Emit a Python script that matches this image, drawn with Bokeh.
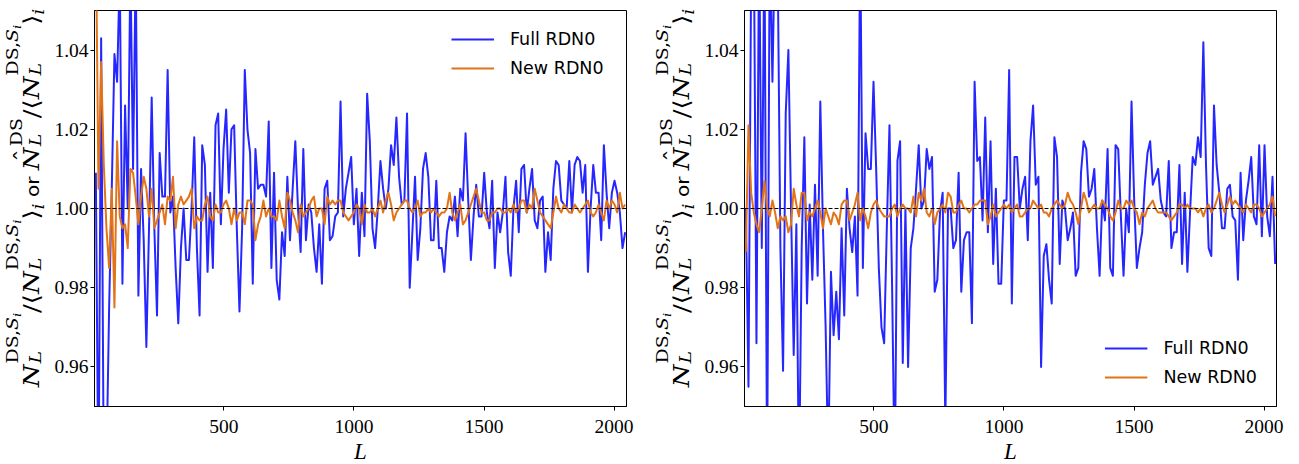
import numpy as np
from bokeh.plotting import figure
from bokeh.models import Range1d, Span, Legend, Div, FixedTicker, PrintfTickFormatter
from bokeh.layouts import row
from bokeh.embed import file_html
from bokeh.resources import INLINE

# ---------------- data ----------------
n_bins = 200
L_first, L_step = 7.1, 10.23          # multipole bin centres
L_ticks = [500, 1000, 1500, 2000]
ratio_ticks = [0.96, 0.98, 1.00, 1.02, 1.04]
series_names = ["Full RDN0", "New RDN0"]

left_full = [
    1.009, 0.925, 1.043, 0.930, 0.935, 0.975, 1.005, 1.039, 1.032, 1.060,
    0.981, 1.026, 1.000, 1.062, 1.010, 1.062, 0.978, 1.010, 0.992, 0.965,
    0.995, 1.028, 0.995, 0.973, 1.014, 1.003, 1.003, 1.035, 0.999, 1.003,
    0.985, 0.971, 0.990, 1.000, 0.987, 0.987, 1.000, 1.018, 0.990, 0.973,
    1.016, 1.011, 0.984, 1.004, 0.985, 1.021, 1.024, 0.996, 1.015, 1.025,
    1.004, 1.020, 1.021, 0.995, 0.974, 0.995, 1.035, 1.020, 1.014, 0.981,
    1.015, 1.005, 1.006, 1.006, 1.003, 1.022, 0.985, 1.009, 0.982, 0.977,
    0.994, 0.988, 1.008, 0.992, 1.005, 1.017, 1.000, 0.989, 1.015, 0.992,
    1.001, 0.999, 0.990, 0.984, 0.996, 0.981, 1.005, 1.007, 0.992, 0.993,
    0.998, 0.999, 1.027, 0.998, 1.005, 1.009, 1.013, 0.996, 1.005, 0.988,
    1.004, 0.993, 1.029, 1.017, 0.995, 0.990, 1.000, 1.012, 1.005, 1.000,
    1.005, 1.016, 1.011, 1.023, 1.008, 1.001, 1.002, 1.024, 0.980, 0.994,
    1.008, 0.987, 0.995, 1.010, 1.014, 1.008, 0.992, 0.992, 1.007, 0.990,
    0.990, 0.984, 0.994, 0.998, 0.997, 1.003, 0.993, 1.005, 1.002, 1.019,
    1.002, 0.987, 0.998, 1.006, 0.998, 0.998, 1.009, 0.999, 0.995, 1.007,
    0.985, 0.999, 0.994, 0.999, 1.008, 0.989, 0.983, 1.000, 1.007, 0.994,
    1.010, 1.011, 0.999, 1.005, 1.010, 0.997, 0.995, 1.002, 1.003, 0.984,
    0.994, 0.987, 1.005, 1.012, 1.011, 1.002, 1.001, 1.000, 1.012, 0.999,
    1.011, 1.013, 1.012, 1.004, 1.011, 0.984, 1.000, 1.011, 1.004, 1.004,
    0.992, 1.016, 1.004, 0.995, 1.004, 1.007, 1.004, 0.999, 0.990, 0.994,
]
left_new = [
    1.070, 1.005, 1.037, 1.011, 0.995, 0.985, 1.005, 0.975, 1.017, 0.998,
    0.995, 0.996, 0.990, 1.010, 1.009, 1.003, 0.996, 1.003, 1.008, 1.005,
    0.998, 1.005, 0.995, 0.997, 0.999, 1.001, 0.996, 1.003, 1.002, 1.008,
    0.995, 1.001, 1.003, 1.001, 1.002, 1.003, 1.005, 0.995, 0.998, 0.997,
    0.997, 1.001, 1.003, 0.998, 0.997, 1.001, 0.999, 0.999, 1.001, 1.002,
    1.000, 0.996, 1.000, 0.997, 0.999, 0.999, 0.996, 1.002, 1.002, 1.001,
    0.992, 0.996, 0.998, 1.002, 0.998, 1.000, 0.998, 0.998, 0.997, 1.002,
    0.998, 0.995, 1.004, 1.002, 0.999, 0.997, 0.994, 1.001, 0.998, 0.999,
    1.000, 1.002, 1.003, 0.998, 1.000, 1.000, 0.996, 1.003, 1.001, 1.002,
    1.001, 1.002, 1.002, 0.999, 0.998, 0.997, 0.998, 0.999, 1.001, 1.000,
    0.996, 1.001, 0.999, 0.999, 1.000, 0.998, 1.000, 1.002, 0.999, 1.002,
    1.004, 1.001, 0.997, 0.999, 1.000, 1.001, 1.002, 1.002, 1.000, 0.999,
    1.000, 1.002, 0.998, 0.999, 0.999, 1.000, 0.999, 1.000, 0.999, 0.998,
    0.999, 0.999, 1.000, 1.004, 0.999, 0.997, 0.999, 1.001, 0.996, 0.997,
    0.999, 1.001, 1.003, 1.005, 1.002, 0.999, 0.999, 0.997, 0.997, 0.999,
    0.999, 1.000, 1.000, 0.999, 0.999, 1.000, 0.999, 1.001, 0.999, 1.000,
    1.002, 1.002, 0.999, 1.001, 1.000, 1.005, 1.002, 0.999, 0.998, 0.997,
    0.996, 0.995, 0.999, 1.003, 1.000, 0.999, 1.001, 1.000, 0.999, 0.999,
    1.001, 1.000, 0.999, 1.000, 1.001, 1.002, 0.999, 0.998, 0.999, 1.001,
    0.999, 0.997, 1.002, 1.000, 1.002, 1.001, 0.999, 1.004, 1.000, 1.001,
]
right_full = [
    1.000, 0.955, 1.060, 1.070, 0.966, 1.070, 0.990, 1.070, 0.930, 1.070,
    1.032, 1.070, 1.060, 0.990, 0.959, 1.024, 1.040, 1.000, 0.963, 0.996,
    0.930, 0.990, 1.018, 0.976, 1.001, 0.982, 1.006, 0.983, 1.027, 0.995,
    0.970, 0.935, 0.984, 0.968, 0.979, 0.967, 0.995, 0.973, 1.005, 0.995,
    0.989, 0.998, 0.978, 1.070, 0.985, 1.019, 1.010, 1.010, 1.032, 1.010,
    0.985, 0.970, 0.966, 0.995, 1.021, 0.980, 0.930, 1.012, 1.017, 0.961,
    1.000, 0.960, 0.990, 0.995, 1.005, 1.016, 1.000, 1.002, 1.015, 1.010,
    1.013, 0.979, 0.982, 0.999, 1.004, 0.945, 1.000, 1.000, 0.990, 0.992,
    1.009, 0.979, 0.992, 0.994, 0.994, 0.971, 1.032, 1.012, 1.013, 0.997,
    1.023, 0.994, 1.017, 0.986, 1.005, 0.981, 0.981, 1.002, 1.002, 1.035,
    0.976, 1.013, 1.013, 1.000, 1.005, 1.008, 0.992, 1.017, 1.026, 1.006,
    1.008, 0.960, 0.988, 0.991, 0.982, 0.976, 1.018, 1.013, 0.986, 1.002,
    1.000, 0.992, 0.995, 0.999, 0.983, 0.985, 1.009, 1.017, 1.015, 1.003,
    1.005, 1.010, 0.995, 0.983, 1.002, 0.997, 1.015, 0.985, 0.983, 1.016,
    1.015, 0.998, 0.983, 1.000, 0.994, 1.027, 1.002, 0.985, 0.990, 0.994,
    1.006, 1.014, 1.017, 1.006, 1.008, 1.010, 1.002, 0.999, 0.998, 1.012,
    0.990, 0.994, 0.994, 1.011, 0.986, 1.004, 0.984, 0.999, 1.013, 1.011,
    1.018, 1.013, 1.042, 1.011, 0.990, 0.988, 1.026, 1.011, 1.004, 0.995,
    0.995, 1.005, 1.006, 0.998, 0.997, 0.982, 1.009, 0.992, 1.002, 1.007,
    1.013, 0.998, 0.996, 1.016, 0.993, 1.016, 0.998, 0.993, 1.008, 0.986,
]
right_new = [
    0.989, 1.021, 1.004, 0.999, 0.996, 0.994, 1.000, 1.007, 1.000, 0.998,
    1.002, 0.999, 0.995, 0.998, 0.997, 0.998, 0.994, 0.996, 1.005, 1.001,
    0.998, 1.004, 1.004, 0.997, 0.999, 0.998, 1.000, 1.002, 0.999, 0.995,
    1.000, 0.998, 0.996, 0.999, 0.998, 0.996, 1.001, 1.002, 1.002, 0.997,
    0.999, 1.001, 1.004, 0.997, 1.000, 0.998, 0.995, 0.999, 1.001, 1.002,
    1.000, 0.999, 0.998, 0.998, 0.998, 1.000, 1.001, 0.998, 1.000, 1.001,
    1.000, 1.000, 0.999, 1.003, 0.998, 1.004, 1.002, 1.005, 0.999, 0.998,
    1.000, 0.996, 0.999, 1.000, 1.001, 0.999, 1.004, 1.003, 0.999, 0.999,
    1.001, 1.002, 1.000, 1.000, 0.999, 1.000, 1.001, 1.001, 1.002, 1.002,
    1.002, 0.996, 0.998, 1.001, 0.998, 0.999, 1.000, 1.001, 1.000, 1.001,
    0.999, 1.000, 1.001, 0.998, 0.998, 0.999, 1.000, 1.000, 1.002, 1.001,
    1.000, 1.001, 0.999, 0.999, 0.998, 1.000, 1.001, 1.002, 1.001, 1.000,
    1.001, 1.004, 1.002, 1.001, 0.999, 0.996, 1.000, 1.004, 1.002, 0.999,
    1.000, 1.001, 1.000, 1.000, 1.002, 1.001, 1.000, 0.998, 0.997, 0.999,
    1.002, 1.000, 1.000, 1.002, 1.001, 1.002, 1.000, 0.999, 0.996, 0.999,
    0.998, 1.000, 1.001, 1.002, 1.000, 0.999, 0.999, 0.999, 0.999, 0.998,
    0.997, 0.998, 0.999, 1.001, 1.001, 1.000, 1.001, 1.000, 1.000, 1.000,
    0.999, 1.000, 0.998, 1.000, 1.001, 0.999, 1.000, 1.002, 1.004, 1.001,
    0.999, 1.001, 1.003, 1.001, 1.002, 1.001, 1.000, 0.999, 1.001, 1.000,
    0.999, 1.001, 1.001, 1.000, 0.998, 0.999, 1.000, 1.001, 1.003, 0.998,
]

L = L_first + L_step * np.arange(n_bins)

# ---------------- styling ----------------
BLUE = "#0000ff"
ORANGE = "#e27418"
TICK_FONT = "Liberation Serif"
SERIF = "'DejaVu Serif', 'Liberation Serif', serif"
SANS = "'DejaVu Sans', sans-serif"
PAGE_H = 464

# y-axis label as HTML (real text), rotated
SUB_I_SMALL = '<span style="font-size:11px;font-style:italic;vertical-align:-3px;line-height:0;">i</span>'
SUB_I = '<span style="font-size:16px;font-style:italic;vertical-align:-5px;line-height:0;">i</span>'


def stack(sup, gap, drop):
    return ('<span style="display:inline-block;vertical-align:-%dpx;font-size:16px;'
            'line-height:%dpx;text-align:left;margin-left:1px;">'
            '<span style="display:block;">%s</span>'
            '<span style="display:block;"><i>L</i></span></span>') % (drop, gap, sup)


SS1 = stack('DS,<i>S</i>' + SUB_I_SMALL, 23, 2)
SS2 = stack('DS', 19, 2)
N = '<i>N</i>'
NHAT = ('<span style="position:relative;display:inline-block;"><i>N</i>'
        '<span style="position:absolute;left:7px;top:-8px;font-style:normal;">&#710;</span></span>')
LA = '&#10216;'
RA = '&#10217;'
OR = '<span style="font-family:%s;font-size:17px;">&nbsp;or&nbsp;</span>' % SANS
LABEL = (N + SS1 + '/' + LA + N + SS1 + RA + SUB_I + OR +
         NHAT + SS2 + '/' + LA + N + SS1 + RA + SUB_I)


def ylabel_div(cx, cy, sx, width):
    html = ('<div style="position:relative;width:%dpx;height:%dpx;">'
            '<div style="position:absolute;left:%dpx;top:%dpx;white-space:nowrap;'
            'font-family:%s;font-size:22px;color:#000;'
            'transform:translate(-50%%,-50%%) rotate(-90deg) scale(%.3f,1);">%s</div></div>'
            ) % (width, PAGE_H, cx, cy, SERIF, sx, LABEL)
    return Div(text=html, width=width, height=PAGE_H, margin=0)


def make_fig(full, new, legend_loc, border_left, border_right):
    p = figure(frame_width=532, frame_height=396,
               x_range=Range1d(2, 2048), y_range=Range1d(0.95, 1.05),
               output_backend="svg", toolbar_location=None,
               min_border_left=border_left, min_border_right=border_right,
               min_border_top=10, min_border_bottom=58,
               background_fill_color="white", border_fill_color="white")
    p.xgrid.visible = False
    p.ygrid.visible = False
    p.outline_line_color = "black"
    p.outline_line_width = 1
    p.outline_line_alpha = 1.0
    for ax in (p.xaxis[0], p.yaxis[0]):
        ax.axis_line_color = "black"
        ax.major_tick_line_color = "black"
        ax.major_tick_out = 4
        ax.major_tick_in = 0
        ax.minor_tick_out = 0
        ax.minor_tick_in = 0
        ax.major_label_text_font = TICK_FONT
        ax.major_label_text_font_size = "19.5px"
        ax.major_label_text_color = "black"
    p.xaxis.ticker = FixedTicker(ticks=L_ticks)
    p.yaxis.ticker = FixedTicker(ticks=ratio_ticks)
    p.yaxis.formatter = PrintfTickFormatter(format="%.2f")
    p.yaxis.major_label_standoff = 2
    p.xaxis.major_label_standoff = 9
    p.xaxis.axis_label = "L"
    p.xaxis.axis_label_text_font = TICK_FONT
    p.xaxis.axis_label_text_font_style = "italic"
    p.xaxis.axis_label_text_font_size = "23px"
    p.xaxis.axis_label_text_color = "black"
    p.xaxis.axis_label_standoff = 3

    r_full = p.line(L, full, line_color=BLUE, line_alpha=0.85, line_width=2, line_join="round")
    r_new = p.line(L, new, line_color=ORANGE, line_width=2, line_join="round")
    p.add_layout(Span(location=1.0, dimension="width", line_color="black",
                      line_width=1, line_dash="4 2"))
    legend = Legend(items=[(series_names[0], [r_full]), (series_names[1], [r_new])],
                    location=legend_loc, label_text_font="DejaVu Sans",
                    label_text_font_size="17.5px", label_text_color="black",
                    glyph_width=43, glyph_height=20, label_height=20,
                    label_standoff=16, spacing=9, padding=10, margin=9,
                    border_line_alpha=0, background_fill_alpha=0)
    p.add_layout(legend)
    return p


fig_left = make_fig(left_full, left_new, (347, 318), 46, 34)
fig_right = make_fig(right_full, right_new, "bottom_right", 44, 14)
div_left = ylabel_div(24, 198, 1.18, 48)
div_right = ylabel_div(14, 198, 1.18, 40)

layout = row(div_left, fig_left, div_right, fig_right)
open("out.html", "w").write(file_html(layout, INLINE))
